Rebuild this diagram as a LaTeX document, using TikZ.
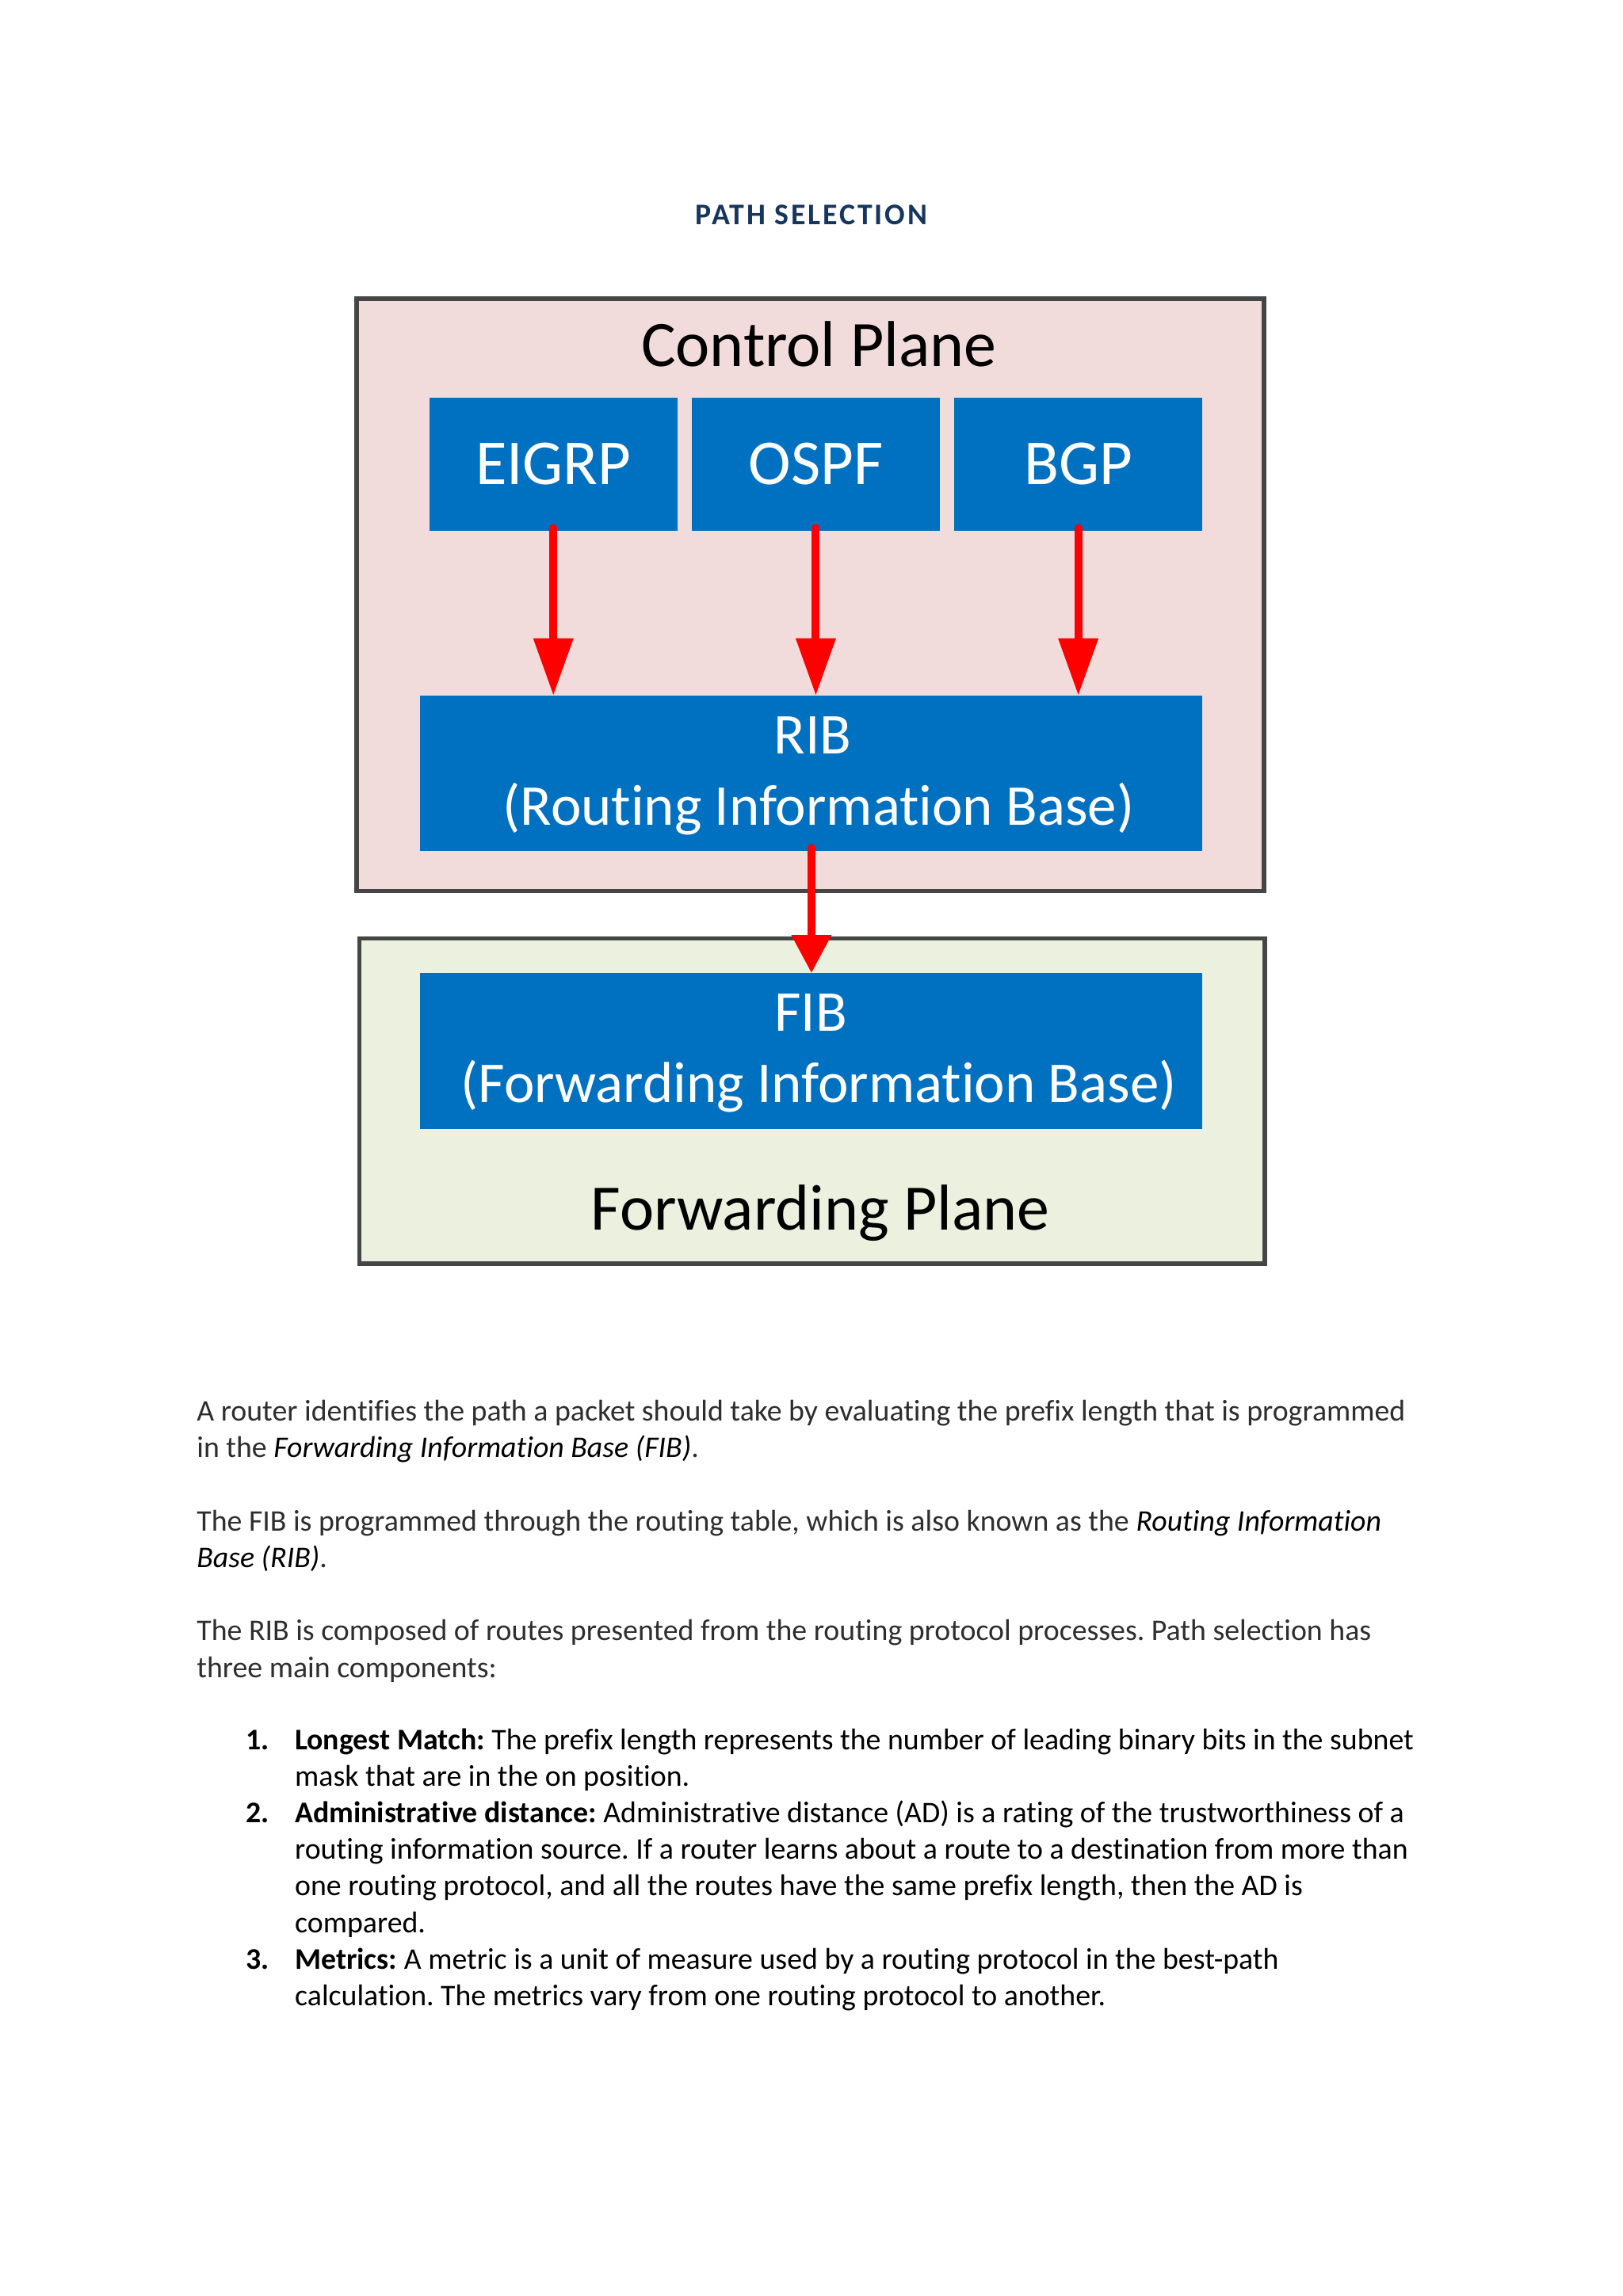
\documentclass[tikz,border=0pt]{standalone}
\usepackage{fontspec}
\setmainfont{Carlito}[Ligatures=NoCommon]
\usetikzlibrary{arrows.meta}
\definecolor{ctrlfill}{HTML}{F2DCDB}
\definecolor{fwdfill}{HTML}{EBF0DF}
\definecolor{boxborder}{HTML}{454545}
\definecolor{protoblue}{HTML}{0070C0}
\definecolor{titleblue}{HTML}{17365D}
\definecolor{bodygray}{HTML}{2E2E2E}
\tikzset{
  planebox/.style={draw=boxborder, line width=1.5pt, outer sep=0pt, inner sep=0pt},
  bluebox/.style={fill=protoblue, draw=none, outer sep=0pt, inner sep=0pt, text=white,
    font=\fontsize{23.5pt}{28pt}\selectfont},
  bigtext/.style={anchor=base, inner sep=0pt, font=\fontsize{23.8pt}{28pt}\selectfont},
  bluetext/.style={anchor=base, inner sep=0pt, text=white, font=\fontsize{21.2pt}{26pt}\selectfont},
  redarr/.style={draw=red, line width=2.9pt, line cap=round, -{Triangle[length=21pt,width=14pt]}},
  redarrshort/.style={draw=red, line width=2.9pt, line cap=round, -{Triangle[length=14pt,width=14pt]}},
  bodyline/.style={anchor=base west, inner sep=0pt, text=bodygray, font=\fontsize{11pt}{13.4pt}\selectfont},
  listline/.style={anchor=base west, inner sep=0pt, text=black, font=\fontsize{11pt}{13.4pt}\selectfont},
}
\newcommand{\itblack}[1]{\textcolor{black}{\textit{#1}}}
\frenchspacing
\begin{document}
\begin{tikzpicture}[x=0.53726pt, y=-0.53726pt]
\useasboundingbox (0,0) rectangle (1108,1568);
\fill[white] (0,0) rectangle (1108,1568);

% title
\node[anchor=base, inner sep=0pt, text=titleblue, font=\fontsize{11pt}{13pt}\selectfont\bfseries\addfontfeatures{LetterSpace=7.5}] (title) at (554,153.3) {PATH SELECTION};

% planes
\node[planebox, fill=ctrlfill, minimum width=332.83pt, minimum height=217.32pt] (cp) at (553.25,406.25) {};
\node[planebox, fill=fwdfill, minimum width=332.03pt, minimum height=119.27pt] (fp) at (554.5,752) {};
\node[bigtext] (cptext) at (559,250.3) {Control Plane};
\node[bigtext] (fptext) at (560,839.9) {Forwarding Plane};

% protocol boxes
\node[bluebox, minimum width=91pt, minimum height=48.94pt] (eigrp) at (377.8,316.95) {EIGRP};
\node[bluebox, minimum width=91pt, minimum height=48.94pt] (ospf) at (557.0,316.95) {OSPF};
\node[bluebox, minimum width=91pt, minimum height=48.94pt] (bgp) at (736.2,316.95) {BGP};

% RIB and FIB
\node[bluebox, minimum width=286.9pt, minimum height=56.95pt] (rib) at (554,528) {};
\node[bluebox, minimum width=286.9pt, minimum height=57.2pt] (fib) at (554,717.75) {};
\node[bluetext] (ribt1) at (555,514.9) {RIB};
\node[bluetext] (ribt2) at (559,563.6) {(Routing Information Base)};
\node[bluetext] (fibt1) at (553.5,704.4) {FIB};
\node[bluetext] (fibt2) at (559,753.1) {(Forwarding Information Base)};

% arrows
\draw[redarr] ([yshift=1pt]eigrp.south) -- (eigrp.south |- rib.north);
\draw[redarr] ([yshift=1pt]ospf.south) -- (ospf.south |- rib.north);
\draw[redarr] ([yshift=1pt]bgp.south) -- (bgp.south |- rib.north);
\draw[redarrshort] ([yshift=1pt]rib.south) -- (fib.north);

% body text
\node[bodyline] (p1a) at (134,970.2) {A router identifies the path a packet should take by evaluating the prefix length that is programmed};
\node[bodyline] (p1b) at (134,995.2) {in the \itblack{Forwarding Information Base (FIB)}.};
\node[bodyline] (p2a) at (134,1045.6) {The FIB is programmed through the routing table, which is also known as the \itblack{Routing Information}};
\node[bodyline] (p2b) at (134,1070.6) {\itblack{Base (RIB)}.};
\node[bodyline] (p3a) at (134,1120.5) {The RIB is composed of routes presented from the routing protocol processes. Path selection has};
\node[bodyline] (p3b) at (134,1145.5) {three main components:};

% list
\node[listline] (n1) at (167.5,1194.7) {\textbf{1.}};
\node[listline] (l1a) at (201,1194.7) {\textbf{Longest Match:} The prefix length represents the number of leading binary bits in the subnet};
\node[listline] (l1b) at (201,1219.7) {mask that are in the on position.};
\node[listline] (n2) at (167.5,1244.7) {\textbf{2.}};
\node[listline] (l2a) at (201,1244.7) {\textbf{Administrative distance:} Administrative distance (AD) is a rating of the trustworthiness of a};
\node[listline] (l2b) at (201,1269.7) {routing information source. If a router learns about a route to a destination from more than};
\node[listline] (l2c) at (201,1294.7) {one routing protocol, and all the routes have the same prefix length, then the AD is};
\node[listline] (l2d) at (201,1319.7) {compared.};
\node[listline] (n3) at (167.5,1344.7) {\textbf{3.}};
\node[listline] (l3a) at (201,1344.7) {\textbf{Metrics:} A metric is a unit of measure used by a routing protocol in the best-path};
\node[listline] (l3b) at (201,1369.7) {calculation. The metrics vary from one routing protocol to another.};
\end{tikzpicture}
\end{document}
